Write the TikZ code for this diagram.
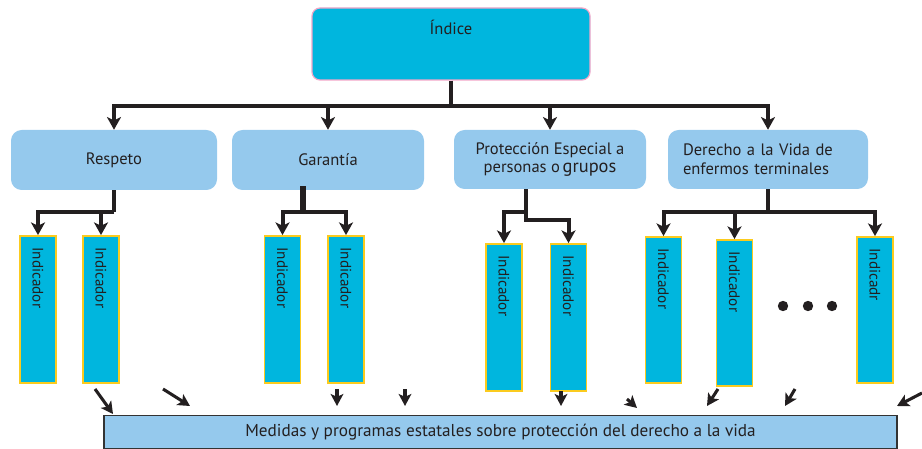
\documentclass[tikz,border=0pt]{standalone}
\usepackage{fontspec}
\setmainfont{PT Sans}
\usetikzlibrary{arrows.meta}
\definecolor{cyanbox}{HTML}{00B6DE}
\definecolor{lightbox}{HTML}{95C9ED}
\definecolor{pinkline}{HTML}{F2A6C8}
\definecolor{goldline}{HTML}{FBCB1E}
\definecolor{txt}{HTML}{231F20}
\definecolor{conn}{HTML}{231F20}
\tikzset{
  idxbox/.style={draw=pinkline, line width=0.9pt, fill=cyanbox, rounded corners=6pt, minimum width=278*0.75pt, minimum height=72*0.75pt, inner sep=0pt},
  catbox/.style={fill=lightbox, rounded corners=8pt, minimum height=60*0.75pt, inner sep=0pt, text=txt, font=\fontsize{12.4pt}{14pt}\selectfont},
  indbox/.style={draw=goldline, line width=1.4pt, fill=cyanbox, minimum width=36*0.75pt, minimum height=147*0.75pt, inner sep=0pt},
  indlbl/.style={rotate=-90, anchor=west, inner xsep=9pt, inner ysep=0pt, text=txt, font=\fontsize{11.4pt}{12pt}\selectfont},
  medbox/.style={draw=black!80, line width=1pt, fill=lightbox, minimum width=793*0.75pt, minimum height=33*0.75pt, inner sep=0pt, text=txt, font=\fontsize{12.9pt}{14pt}\selectfont},
  bar/.style={draw=conn, line width=3pt},
  arr/.style={draw=conn, line width=3pt, -{Stealth[length=9.5pt,width=10.5pt,inset=2.5pt]}},
  sarr/.style={draw=conn, line width=2.3pt, -{Stealth[length=9pt,width=9.5pt,inset=2.2pt]}},
}
\begin{document}
\begin{tikzpicture}[x=0.75pt, y=-0.75pt]
\useasboundingbox (0,0) rectangle (922,449);

% top index
\node[idxbox, label={[anchor=north, yshift=-6pt, text=txt, font=\fontsize{12.4pt}{13pt}\selectfont]north:Índice}] (idx) at (451,44) {};

% categories
\node[catbox, minimum width=206*0.75pt] (resp) at (114,160) {Respeto};
\node[catbox, minimum width=192*0.75pt] (gar) at (328,160) {Garantía};
\node[catbox, minimum width=192*0.75pt, minimum height=59*0.75pt, align=center] (prot) at (550,159.5) {Protección Especial a\\personas o\,{\fontsize{13.8pt}{14pt}\selectfont grupos}};
\node[catbox, minimum width=200*0.75pt, minimum height=59*0.75pt, align=left, text width=186*0.75pt, inner xsep=0pt] (der) at (768,159.5) {\hspace*{6pt}Derecho a la Vida de\\\hspace*{6pt}enfermos terminales};

% indicators
\node[indbox, label={[indlbl]north:Indicador}] (i1) at (38,309.5) {};
\node[indbox, label={[indlbl]north:Indicador}] (i2) at (101,309.5) {};
\node[indbox, label={[indlbl]north:Indicador}] (i3) at (282.5,309.5) {};
\node[indbox, label={[indlbl]north:Indicador}] (i4) at (346,309.5) {};
\node[indbox, label={[indlbl]north:Indicador}] (i5) at (504,317.5) {};
\node[indbox, label={[indlbl]north:Indicador}] (i6) at (568.5,317.5) {};
\node[indbox, minimum height=146*0.75pt, label={[indlbl]north:Indicador}] (i7) at (663.5,310) {};
\node[indbox, minimum height=146*0.75pt, label={[indlbl]north:Indicador}] (i8) at (734.5,313) {};
\node[indbox, minimum height=146*0.75pt, label={[indlbl]north:Indicadr}] (i9) at (875,310) {};

% dots
\fill[conn] (783,306) circle (5.2) (808,306) circle (5.2) (832,306) circle (5.2);

% bottom box
\node[medbox] (med) at (500.5,432) {Medidas y programas estatales sobre protección del derecho a la vida};

% hubs
\coordinate (hubI) at (451,106);
\coordinate (hubR) at (114,212);
\coordinate (hubG) at (303,212);
\coordinate (hubP) at (526,212);
\coordinate (hubP2) at (526,220);
\coordinate (hubD) at (768,212);

% level 1
\draw[bar] (idx.south) -- (hubI);
\draw[arr] (hubI) -| (resp.north);
\draw[arr] (hubI) -| (gar.north);
\draw[arr] (hubI) -| (prot.north);
\draw[arr] (hubI) -| (der.north);

% Respeto
\draw[bar] (resp.south) -- (hubR);
\draw[arr] (hubR) -| (i1.north);
\draw[arr] (hubR) -| (i2.north);

% Garantia
\draw[bar, line width=4.5pt] ([yshift=3pt]hubG |- gar.south) -- (hubG);
\draw[arr] (hubG) -| (i3.north);
\draw[arr] (hubG) -| (i4.north);

% Proteccion
\draw[bar] (hubP |- prot.south) -- (hubP);
\draw[arr] (hubP) -| (i5.north);
\draw[arr] (hubP) -- (hubP2) -| (i6.north);

% Derecho
\draw[bar] (der.south) -- (hubD);
\draw[arr] (hubD) -| (i7.north);
\draw[arr] (hubD) -| (i8.north);
\draw[arr] (hubD) -| (i9.north);

% bottom arrows
\coordinate (s1) at (95,389);  \coordinate (e1) at (113,414);
\coordinate (s2) at (163,389); \coordinate (e2) at (190,406);
\coordinate (s3) at (337,389); \coordinate (e3) at (337,406);
\coordinate (s4) at (405,389); \coordinate (e4) at (405,406);
\coordinate (s5) at (561,391); \coordinate (e5) at (561,406);
\coordinate (s6) at (627,399); \coordinate (e6) at (637,408);
\coordinate (s7) at (718,389); \coordinate (e7) at (707,406);
\coordinate (s8) at (795,389); \coordinate (e8) at (785,406);
\coordinate (s9) at (922,393); \coordinate (e9) at (897,406);
\foreach \k in {1,...,9} { \draw[sarr] (s\k) -- (e\k); }
\end{tikzpicture}
\end{document}
